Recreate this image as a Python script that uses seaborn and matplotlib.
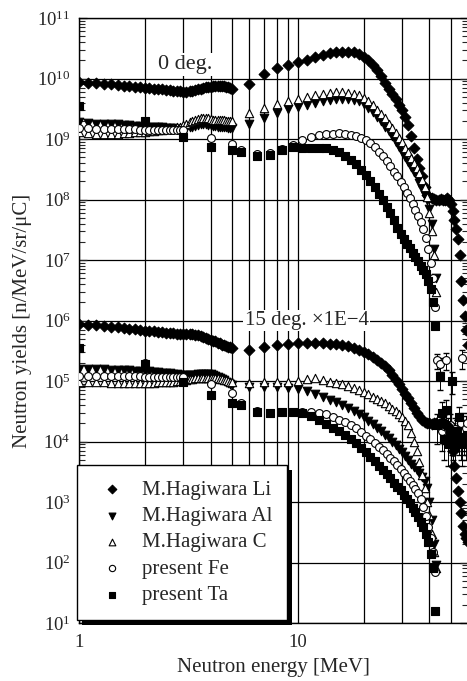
import matplotlib
matplotlib.use("Agg")
import matplotlib.pyplot as plt
import seaborn as sns
from matplotlib.ticker import FixedLocator, NullFormatter, LogLocator, LogFormatterMathtext
from matplotlib.patches import Rectangle
from matplotlib.transforms import IdentityTransform

# ---------------- data ----------------
E_LOW = [1.0, 1.1, 1.2, 1.3, 1.4, 1.5, 1.6, 1.7, 1.8, 1.9, 2.0, 2.1, 2.2, 2.3, 2.4, 2.5,
         2.6, 2.7, 2.8, 2.9, 3.0, 3.1, 3.2, 3.3, 3.4, 3.5, 3.6, 3.7, 3.8, 3.9, 4.0, 4.1,
         4.2, 4.3, 4.4, 4.5, 4.6, 4.7, 4.8, 4.9, 5.0]
E_HIGH_LI = [6, 7, 8, 9, 10, 11, 12, 13, 14, 15, 16, 17, 18, 19, 20, 21, 22, 23, 24, 25,
             26, 27, 28, 29, 30, 31, 32, 33, 34, 35, 36, 37, 38, 39, 40, 41, 42, 43, 44,
             45, 46, 47, 48, 49, 50, 51, 52, 53, 54, 55, 56, 57, 58, 59, 60]
E_HIGH_ALC = [6, 7, 8, 9, 10, 11, 12, 13, 14, 15, 16, 17, 18, 19, 20, 21, 22, 23, 24, 25,
              26, 27, 28, 29, 30, 31, 32, 33, 34, 35, 36, 37, 38, 39, 40, 41, 42, 43]
E_FE_LOW = [1.0, 1.1, 1.2, 1.3, 1.4, 1.5, 1.6, 1.7, 1.8, 1.9, 2.0, 2.1, 2.2, 2.3, 2.4,
            2.5, 2.6, 2.7, 2.8, 2.9]
E_FE = [2.0, 3.0, 4.0, 5.0, 5.5, 6.5, 7.5, 8.5, 9.5, 10.5, 11.5, 12.5, 13.5, 14.5, 15.5,
        16.5, 17.5, 18.5, 19.5, 20.5, 21.5, 22.5, 23.5, 24.5, 25.5, 26.5, 27.5, 28.5,
        29.5, 30.5, 31.5, 32.5, 33.5, 34.5, 35.5, 36.5, 37.5, 38.5, 39.5, 40.5, 41.5, 42.5]
E_TA = [1.0] + E_FE
E_TAIL = [43.5, 44.5, 45.5, 46.5, 47.5, 48.5, 49.5, 50.5, 51.5, 52.5, 53.5, 54.5, 55.5,
          56.5, 57.5, 58.5, 59.5]

# ---- 0 deg ----
LI0_LOW = [8.6e9, 8.5e9, 8.3e9, 8.2e9, 8.0e9, 7.8e9, 7.6e9, 7.5e9, 7.3e9, 7.2e9, 7.0e9,
           6.9e9, 6.8e9, 6.7e9, 6.6e9, 6.5e9, 6.4e9, 6.3e9, 6.2e9, 6.1e9, 6.0e9, 6.0e9,
           6.1e9, 6.2e9, 6.4e9, 6.6e9, 6.8e9, 7.0e9, 7.1e9, 7.2e9, 7.3e9, 7.4e9, 7.4e9,
           7.5e9, 7.5e9, 7.5e9, 7.4e9, 7.3e9, 7.2e9, 7.0e9, 6.8e9]
LI0_HIGH = [8.0e9, 1.2e10, 1.5e10, 1.65e10, 1.85e10, 2.05e10, 2.25e10, 2.45e10, 2.6e10,
            2.7e10, 2.75e10, 2.75e10, 2.7e10, 2.55e10, 2.3e10, 2.0e10, 1.7e10, 1.4e10,
            1.1e10, 8.5e9, 6.8e9, 5.5e9, 4.5e9, 3.7e9, 3.0e9, 2.3e9, 1.7e9, 1.1e9, 7.0e8,
            4.6e8, 3.3e8, 2.4e8, 1.6e8, 1.2e8, 1.08e8, 1.05e8, 1.02e8, 1.0e8, 1.0e8,
            1.02e8, 1.0e8, 1.0e8, 1.05e8, 1.0e8, 8.5e7, 6.5e7, 4.5e7, 3.3e7, 2.2e7,
            1.2e7, 4.5e6, 2.2e6, 1.2e6, 7.0e5, 4.0e5]
AL0_LOW = [1.9e9, 1.85e9, 1.8e9, 1.8e9, 1.75e9, 1.75e9, 1.7e9, 1.7e9, 1.65e9, 1.65e9,
           1.6e9, 1.6e9, 1.6e9, 1.55e9, 1.55e9, 1.5e9, 1.5e9, 1.5e9, 1.45e9, 1.45e9,
           1.45e9, 1.5e9, 1.55e9, 1.6e9, 1.65e9, 1.7e9, 1.75e9, 1.75e9, 1.75e9, 1.7e9,
           1.7e9, 1.65e9, 1.65e9, 1.6e9, 1.6e9, 1.6e9, 1.55e9, 1.55e9, 1.5e9, 1.5e9, 1.5e9]
AL0_HIGH = [1.8e9, 2.2e9, 2.7e9, 3.1e9, 3.35e9, 3.6e9, 3.9e9, 4.2e9, 4.4e9, 4.5e9, 4.55e9,
            4.5e9, 4.4e9, 4.2e9, 3.8e9, 3.3e9, 2.8e9, 2.35e9, 1.95e9, 1.6e9, 1.35e9,
            1.1e9, 9.0e8, 7.3e8, 6.0e8, 5.0e8, 4.2e8, 3.5e8, 2.9e8, 2.4e8, 1.9e8, 1.5e8,
            1.2e8, 1.0e8, 7.0e7, 4.0e7, 1.5e7, 5.0e6]
C0_LOW = [1.3e9, 1.25e9, 1.2e9, 1.2e9, 1.2e9, 1.2e9, 1.25e9, 1.25e9, 1.3e9, 1.3e9, 1.3e9,
          1.35e9, 1.35e9, 1.4e9, 1.4e9, 1.45e9, 1.45e9, 1.5e9, 1.55e9, 1.6e9, 1.7e9,
          1.8e9, 1.9e9, 2.0e9, 2.1e9, 2.15e9, 2.2e9, 2.2e9, 2.2e9, 2.2e9, 2.15e9, 2.1e9,
          2.1e9, 2.1e9, 2.1e9, 2.05e9, 2.05e9, 2.0e9, 2.0e9, 2.0e9, 2.0e9]
C0_HIGH = [2.7e9, 3.3e9, 3.8e9, 4.2e9, 4.5e9, 4.9e9, 5.3e9, 5.6e9, 5.8e9, 5.9e9, 5.9e9,
           5.8e9, 5.6e9, 5.3e9, 4.8e9, 4.2e9, 3.6e9, 3.0e9, 2.6e9, 2.2e9, 1.8e9, 1.5e9,
           1.25e9, 1.05e9, 8.8e8, 7.2e8, 6.0e8, 4.9e8, 4.0e8, 3.3e8, 2.7e8, 2.1e8, 1.6e8,
           1.1e8, 6.0e7, 3.0e7, 1.2e7, 3.0e6]
FE0_LOW = [1.5e9, 1.5e9, 1.48e9, 1.47e9, 1.46e9, 1.45e9, 1.45e9, 1.44e9, 1.44e9, 1.43e9,
           1.43e9, 1.42e9, 1.42e9, 1.42e9, 1.41e9, 1.41e9, 1.4e9, 1.4e9, 1.4e9, 1.4e9]
FE0 = [1.9e9, 1.4e9, 1.04e9, 8.2e8, 6.5e8, 5.6e8, 5.8e8, 6.8e8, 8.0e8, 9.6e8, 1.08e9,
       1.16e9, 1.2e9, 1.23e9, 1.24e9, 1.22e9, 1.18e9, 1.12e9, 1.05e9, 9.5e8, 8.5e8,
       7.3e8, 6.2e8, 5.2e8, 4.3e8, 3.6e8, 2.9e8, 2.4e8, 1.95e8, 1.6e8, 1.3e8, 1.05e8,
       8.5e7, 6.8e7, 5.4e7, 4.2e7, 3.2e7, 2.3e7, 1.5e7, 9.0e6, 5.0e6, 1.7e6]
TA0 = [3.5e9, 2.0e9, 1.08e9, 7.5e8, 6.6e8, 6.0e8, 5.3e8, 5.4e8, 6.5e8, 7.3e8, 7.2e8,
       7.2e8, 7.2e8, 7.0e8, 6.6e8, 6.0e8, 5.3e8, 4.5e8, 3.8e8, 3.1e8, 2.5e8, 2.0e8,
       1.6e8, 1.25e8, 9.8e7, 7.6e7, 5.9e7, 4.6e7, 3.4e7, 2.7e7, 2.2e7, 1.85e7, 1.55e7,
       1.3e7, 1.1e7, 9.5e6, 8.0e6, 6.8e6, 5.8e6, 4.5e6, 3.3e6, 2.0e6, 8.0e5]
FE0_TAIL = [2.2e5, 1.9e5, 1.5e4, 1.8e4, 2.2e5, 1.6e4, 1.9e4, 1.3e4, 1.2e4, 1.6e4, 1.5e4,
            1.3e4, 2.0e4, 2.4e5, 1.5e4, 1.7e4, 2.0e4]
FE0_TAIL_ERR = [6e4, 5e4, 8e3, 9e3, 7e4, 8e3, 9e3, 7e3, 7e3, 8e3, 8e3, 7e3, 1e4, 8e4,
                8e3, 9e3, 1e4]
TA0_TAIL = [1.9e4, 1.2e5, 3.0e4, 1.1e4, 3.3e4, 9.0e3, 1.4e4, 1.0e5, 1.2e4, 8.0e3, 1.5e4,
            2.5e4, 1.1e4, 9.0e3, 1.2e4, 1.0e4, 1.3e4]
TA0_TAIL_ERR = [1e4, 5e4, 1.5e4, 6e3, 1.5e4, 5e3, 7e3, 4e4, 6e3, 4e3, 8e3, 1.2e4, 6e3,
                5e3, 6e3, 5e3, 7e3]

# ---- 15 deg (x 1E-4) ----
LI15_LOW = [8.6e5, 8.5e5, 8.3e5, 8.1e5, 7.9e5, 7.7e5, 7.5e5, 7.3e5, 7.1e5, 7.0e5, 6.8e5,
            6.7e5, 6.6e5, 6.5e5, 6.4e5, 6.3e5, 6.2e5, 6.1e5, 6.0e5, 6.0e5, 5.9e5, 5.9e5,
            5.9e5, 5.9e5, 5.8e5, 5.7e5, 5.6e5, 5.4e5, 5.2e5, 5.0e5, 4.8e5, 4.6e5, 4.5e5,
            4.3e5, 4.2e5, 4.0e5, 3.9e5, 3.8e5, 3.7e5, 3.6e5, 3.5e5]
LI15_HIGH = [3.3e5, 3.7e5, 3.9e5, 4.1e5, 4.2e5, 4.25e5, 4.25e5, 4.2e5, 4.15e5, 4.05e5,
             3.9e5, 3.75e5, 3.5e5, 3.25e5, 3.0e5, 2.75e5, 2.5e5, 2.25e5, 2.0e5, 1.75e5,
             1.5e5, 1.25e5, 1.05e5, 8.8e4, 7.5e4, 6.2e4, 5.2e4, 4.3e4, 3.6e4, 3.0e4,
             2.6e4, 2.3e4, 2.1e4, 2.0e4, 2.0e4, 1.95e4, 2.0e4, 2.0e4, 1.95e4, 2.0e4,
             2.0e4, 1.95e4, 1.9e4, 1.7e4, 1.2e4, 7.0e3, 4.0e3, 2.5e3, 1.5e3, 1.0e3,
             6.6e2, 4.0e2, 3.0e2, 2.5e2, 2.2e2]
AL15_LOW = [1.6e5, 1.58e5, 1.56e5, 1.55e5, 1.53e5, 1.52e5, 1.5e5, 1.5e5, 1.48e5, 1.47e5,
            1.45e5, 1.44e5, 1.42e5, 1.4e5, 1.38e5, 1.36e5, 1.34e5, 1.32e5, 1.3e5, 1.28e5,
            1.27e5, 1.26e5, 1.26e5, 1.27e5, 1.28e5, 1.3e5, 1.32e5, 1.33e5, 1.33e5,
            1.32e5, 1.3e5, 1.27e5, 1.22e5, 1.17e5, 1.12e5, 1.07e5, 1.02e5, 9.8e4, 9.4e4,
            9.0e4, 8.7e4]
AL15_HIGH = [8.0e4, 8.0e4, 8.0e4, 7.8e4, 7.5e4, 6.8e4, 6.1e4, 5.5e4, 4.9e4, 4.5e4, 4.0e4,
             3.6e4, 3.2e4, 2.8e4, 2.5e4, 2.2e4, 1.95e4, 1.7e4, 1.5e4, 1.3e4, 1.15e4,
             1.0e4, 8.8e3, 7.6e3, 6.6e3, 5.7e3, 4.9e3, 4.3e3, 3.8e3, 3.4e3, 3.0e3, 2.6e3,
             2.2e3, 1.7e3, 1.0e3, 5.0e2, 2.0e2, 9.0e1]
C15_LOW = [9.7e4, 9.6e4, 9.5e4, 9.5e4, 9.4e4, 9.4e4, 9.4e4, 9.3e4, 9.3e4, 9.3e4, 9.3e4,
           9.4e4, 9.4e4, 9.5e4, 9.5e4, 9.6e4, 9.7e4, 9.8e4, 9.9e4, 1.0e5, 1.02e5, 1.04e5,
           1.06e5, 1.08e5, 1.1e5, 1.12e5, 1.13e5, 1.14e5, 1.14e5, 1.14e5, 1.13e5,
           1.12e5, 1.11e5, 1.1e5, 1.09e5, 1.07e5, 1.05e5, 1.03e5, 1.0e5, 9.8e4, 9.6e4]
C15_HIGH = [9.4e4, 9.6e4, 9.7e4, 9.8e4, 1.0e5, 1.07e5, 1.1e5, 1.05e5, 9.6e4, 9.2e4, 8.8e4,
            8.3e4, 7.6e4, 7.0e4, 6.5e4, 6.0e4, 5.5e4, 5.1e4, 4.7e4, 4.3e4, 3.9e4, 3.5e4,
            3.2e4, 2.8e4, 2.5e4, 2.2e4, 1.9e4, 1.4e4, 1.0e4, 7.0e3, 4.5e3, 2.8e3, 1.7e3,
            1.0e3, 6.0e2, 3.0e2, 1.5e2, 8.0e1]
FE15_LOW = [1.22e5, 1.22e5, 1.21e5, 1.21e5, 1.2e5, 1.2e5, 1.2e5, 1.19e5, 1.19e5, 1.19e5,
            1.18e5, 1.18e5, 1.18e5, 1.17e5, 1.17e5, 1.17e5, 1.16e5, 1.16e5, 1.16e5, 1.15e5]
FE15 = [2.0e5, 1.15e5, 9.0e4, 6.3e4, 4.4e4, 3.2e4, 3.0e4, 3.1e4, 3.1e4, 3.1e4, 3.1e4,
        3.0e4, 2.8e4, 2.5e4, 2.3e4, 2.1e4, 1.85e4, 1.65e4, 1.45e4, 1.25e4, 1.08e4, 9.3e3,
        8.1e3, 7.1e3, 6.2e3, 5.4e3, 4.7e3, 4.1e3, 3.5e3, 3.0e3, 2.6e3, 2.2e3, 1.9e3,
        1.65e3, 1.4e3, 1.1e3, 8.3e2, 5.8e2, 3.8e2, 2.5e2, 1.5e2, 7.0e1]
TA15 = [3.5e5, 1.9e5, 9.7e4, 5.9e4, 4.3e4, 4.0e4, 3.1e4, 3.0e4, 3.1e4, 3.1e4, 3.0e4,
        2.6e4, 2.3e4, 1.95e4, 1.7e4, 1.5e4, 1.3e4, 1.1e4, 9.3e3, 7.8e3, 6.6e3, 5.6e3,
        4.7e3, 4.0e3, 3.4e3, 2.9e3, 2.5e3, 2.1e3, 1.8e3, 1.55e3, 1.3e3, 1.1e3, 9.5e2,
        8.0e2, 6.8e2, 5.7e2, 4.7e2, 3.8e2, 3.0e2, 2.2e2, 1.4e2, 8.0e1, 1.6e1]

LEGEND_LABELS = ["M.Hagiwara Li", "M.Hagiwara Al", "M.Hagiwara C", "present Fe", "present Ta"]
YTICKS = [1e1, 1e2, 1e3, 1e4, 1e5, 1e6, 1e7, 1e8, 1e9, 1e10, 1e11]
XTICKS = [1, 10]
XTICK_LABELS = ["1", "10"]

# ---------------- style ----------------
sns.set_style("ticks")
plt.rcParams["font.family"] = ["Liberation Serif", "DejaVu Serif"]
plt.rcParams["mathtext.fontset"] = "custom"
plt.rcParams["mathtext.rm"] = "Liberation Serif"
plt.rcParams["mathtext.it"] = "Liberation Serif:italic"
plt.rcParams["mathtext.default"] = "regular"

W, H = 467, 681
fig = plt.figure(figsize=(W / 100, H / 100), dpi=100)
ax = fig.add_axes([79 / W, 58 / H, (468 - 79) / W, 605 / H])
ax.set_xscale("log")
ax.set_yscale("log")
ax.set_xlim(1, 60)
ax.set_ylim(1e1, 1e11)

STY = {
    "Li": dict(marker="D", s=30, color="black", edgecolor="black"),
    "Al": dict(marker="v", s=38, color="black", edgecolor="black"),
    "C": dict(marker="^", s=36, color="white", edgecolor="black"),
    "Fe": dict(marker="o", s=32, color="white", edgecolor="black"),
    "Ta": dict(marker="s", s=26, color="black", edgecolor="black"),
}


def pts(x, y, key, label=None, z=4):
    sns.scatterplot(x=x, y=y, ax=ax, linewidth=0.8, zorder=z, legend=False,
                    label=label, **STY[key])


# tails with error bars
for ex, ey, ee, key in [(E_TAIL, FE0_TAIL, FE0_TAIL_ERR, "Fe"),
                        (E_TAIL, TA0_TAIL, TA0_TAIL_ERR, "Ta")]:
    ax.errorbar(ex, ey, yerr=ee, fmt="none", ecolor="black", elinewidth=0.7,
                capsize=2.5, zorder=3)
    pts(ex, ey, key)

# 15 deg
pts(E_LOW + E_HIGH_LI, LI15_LOW + LI15_HIGH, "Li")
pts(E_LOW + E_HIGH_ALC, AL15_LOW + AL15_HIGH, "Al")
pts(E_LOW + E_HIGH_ALC, C15_LOW + C15_HIGH, "C")
pts(E_FE_LOW + E_FE, FE15_LOW + FE15, "Fe")
pts(E_TA, TA15, "Ta")

# 0 deg (labelled)
pts(E_LOW + E_HIGH_LI, LI0_LOW + LI0_HIGH, "Li", LEGEND_LABELS[0])
pts(E_LOW + E_HIGH_ALC, AL0_LOW + AL0_HIGH, "Al", LEGEND_LABELS[1])
pts(E_LOW + E_HIGH_ALC, C0_LOW + C0_HIGH, "C", LEGEND_LABELS[2])
pts(E_FE_LOW + E_FE, FE0_LOW + FE0, "Fe", LEGEND_LABELS[3])
pts(E_TA, TA0, "Ta", LEGEND_LABELS[4])

# grid, ticks
ax.xaxis.set_major_locator(FixedLocator(XTICKS))
ax.set_xticklabels(XTICK_LABELS)
ax.xaxis.set_minor_locator(LogLocator(base=10, subs=(2, 3, 4, 5, 6, 7, 8, 9), numticks=20))
ax.xaxis.set_minor_formatter(NullFormatter())
ax.yaxis.set_major_locator(FixedLocator(YTICKS))
ax.yaxis.set_major_formatter(LogFormatterMathtext())
ax.yaxis.set_minor_locator(LogLocator(base=10, subs=(2, 3, 4, 5, 6, 7, 8, 9), numticks=30))
ax.yaxis.set_minor_formatter(NullFormatter())
ax.grid(which="major", axis="both", color="black", linewidth=0.9, zorder=1)
ax.grid(which="minor", axis="x", color="black", linewidth=0.9, zorder=1)
ax.set_axisbelow(True)
ax.tick_params(axis="y", which="major", direction="in", length=6, width=0.9,
               left=True, right=True, labelsize=13.5, pad=6)
ax.tick_params(axis="y", which="minor", direction="in", length=4, width=0.8,
               left=True, right=True)
ax.tick_params(axis="x", which="both", direction="in", length=0, labelsize=13.5, pad=8)
for sp in ax.spines.values():
    sp.set_color("black")
    sp.set_linewidth(1.0)

ax.set_xlabel("Neutron energy [MeV]", fontsize=15, labelpad=5)
ax.set_ylabel("Neutron yields [n/MeV/sr/\u03bcC]", fontsize=15, labelpad=4)

# annotations
ax.text(3.05, 1.7e10, "0 deg.", fontsize=16, ha="center", va="center", zorder=6,
        bbox=dict(facecolor="white", edgecolor="none", pad=1.5))
ax.text(11.0, 1.0e6, "15 deg. \u00d71E\u22124", fontsize=15, ha="center", va="center",
        zorder=6, bbox=dict(facecolor="white", edgecolor="none", pad=1.0))

# legend with hard black shadow
handles, labels = ax.get_legend_handles_labels()
leg = ax.legend(handles, labels, loc="lower left",
                bbox_to_anchor=(77 / W, 61 / H), bbox_transform=fig.transFigure,
                fontsize=15, frameon=True, fancybox=False, framealpha=1,
                edgecolor="black", borderpad=0.7, handlelength=1.96, handletextpad=0.46,
                labelspacing=0.33, borderaxespad=0, markerscale=0.8)
leg.get_frame().set_linewidth(1.0)
leg.set_zorder(20)
fig.canvas.draw()
bb = leg.get_window_extent()
shadow = Rectangle((bb.x0 + 5, bb.y0 - 5), bb.width, bb.height, transform=IdentityTransform(),
                   facecolor="black", edgecolor="none", zorder=19, clip_on=False)
ax.add_artist(shadow)

fig.savefig("out.png", dpi=100)
